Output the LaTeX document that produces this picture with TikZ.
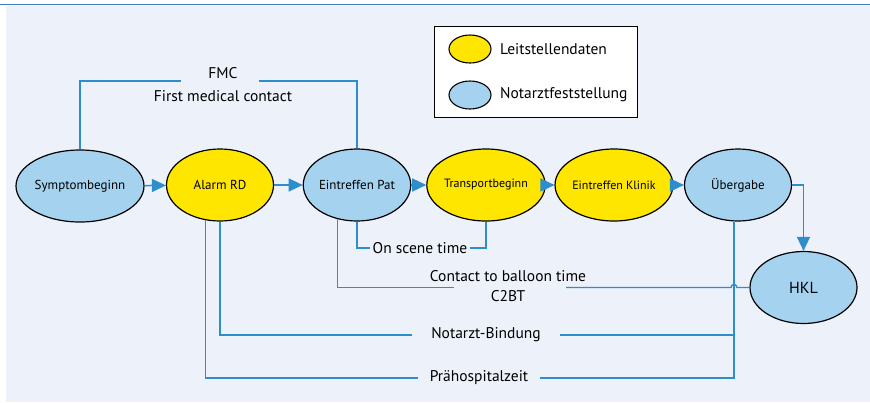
\documentclass[tikz,border=0pt]{standalone}
\usepackage{fontspec}
\setmainfont{PT Sans}
\usetikzlibrary{shapes.geometric,arrows.meta}
\definecolor{bgc}{HTML}{EDF2FA}
\definecolor{topc}{HTML}{3F7FBF}
\definecolor{lblue}{HTML}{A5D3EF}
\definecolor{lyel}{HTML}{FFE600}
\definecolor{conn}{HTML}{2E8DCB}
\tikzset{
  ev/.style={ellipse, draw=black, line width=1.2pt, minimum width=107pt, minimum height=72pt, inner sep=0pt, font=\fontsize{13}{15}\selectfont},
  lev/.style={ellipse, draw=black, line width=1.1pt, minimum width=42pt, minimum height=28pt, inner sep=0pt},
  lbl/.style={inner sep=2pt, font=\fontsize{15.5}{20}\selectfont},
  br/.style={draw=conn, line width=1.4pt},
  arr/.style={draw=conn, line width=1.5pt, -{Triangle[length=14pt,width=13pt]}},
}
\begin{document}
\begin{tikzpicture}[x=1pt,y=-1pt]
\useasboundingbox (0,0) rectangle (870,402);
\fill[bgc] (6,6) rectangle (870,402);
\draw[topc, line width=1.6pt] (0,4.5) -- (870,4.5);

% legend
\node[draw=black, line width=1pt, fill=white, minimum width=203pt, minimum height=91pt, inner sep=0pt] (leg) at (535.5,71.5) {};
\node[lev, fill=lyel] (l1) at (470,49) {};
\node[lev, fill=lblue] (l2) at (470,95) {};
\node[lbl, anchor=west] (lt1) at (498,49) {Leitstellendaten};
\node[lbl, anchor=west] (lt2) at (498,95) {Notarztfeststellung};

% main events
\node[ev, fill=lblue] (s) at (80,186) {Symptombeginn};
\node[ev, fill=lyel] (a) at (220,185) {Alarm RD};
\node[ev, fill=lblue] (p) at (357,185) {Eintreffen Pat};
\node[ev, fill=lyel, font=\fontsize{12}{14}\selectfont] (t) at (486,185) {Transportbeginn};
\node[ev, fill=lyel, font=\fontsize{12}{14}\selectfont] (k) at (614,185) {Eintreffen Klinik};
\node[ev, fill=lblue] (u) at (738,185) {Übergabe};
\node[ev, fill=lblue, font=\fontsize{16}{18}\selectfont] (h) at (803.5,287.5) {HKL};

\draw[arr] (s) -- (a);
\draw[arr] (a) -- (p);
\draw[arr] (p) -- (t);
\draw[arr] (t) -- (k);
\draw[arr] (k) -- (u);
\draw[arr] (u.east) -| (h.north);

% FMC
\node[lbl] (fmc) at (223,73) {FMC};
\node[lbl] (fmc2) at (223,96) {First medical contact};
\coordinate (f1) at (181,81);
\coordinate (f2) at (259,81);
\draw[br] (s.north) |- (f1);
\draw[br] (f2) -| (p.north);

% On scene time
\node[lbl] (os) at (420,248) {On scene time};
\draw[br] (p.south) |- (os.west);
\draw[br] (os.east) -| (t.south);

% Contact to balloon time
\node[lbl, align=center] (cb) at (508,286) {Contact to balloon time\\C2BT};
\coordinate (c1) at (454,287.5);
\coordinate (c2) at (566,287.5);
\coordinate (c3) at (731,287.5);
\draw[br] (p.240.6) |- (c1);
\draw[br] (c2) -- (c3) arc[start angle=180, end angle=0, radius=3pt] -- (h.west);

% Notarzt-Bindung
\node[lbl, inner xsep=19pt] (nb) at (486,335) {Notarzt-Bindung};
\draw[br] (a.south) |- (nb.west);
\draw[br] (nb.east) -- (nb.east -| u.264);

% Praehospitalzeit
\node[lbl, inner xsep=12pt] (pz) at (479,378) {Prähospitalzeit};
\draw[br] (a.248) |- (pz.west);
\draw[br] (u.264) |- (pz.east);
\end{tikzpicture}
\end{document}
